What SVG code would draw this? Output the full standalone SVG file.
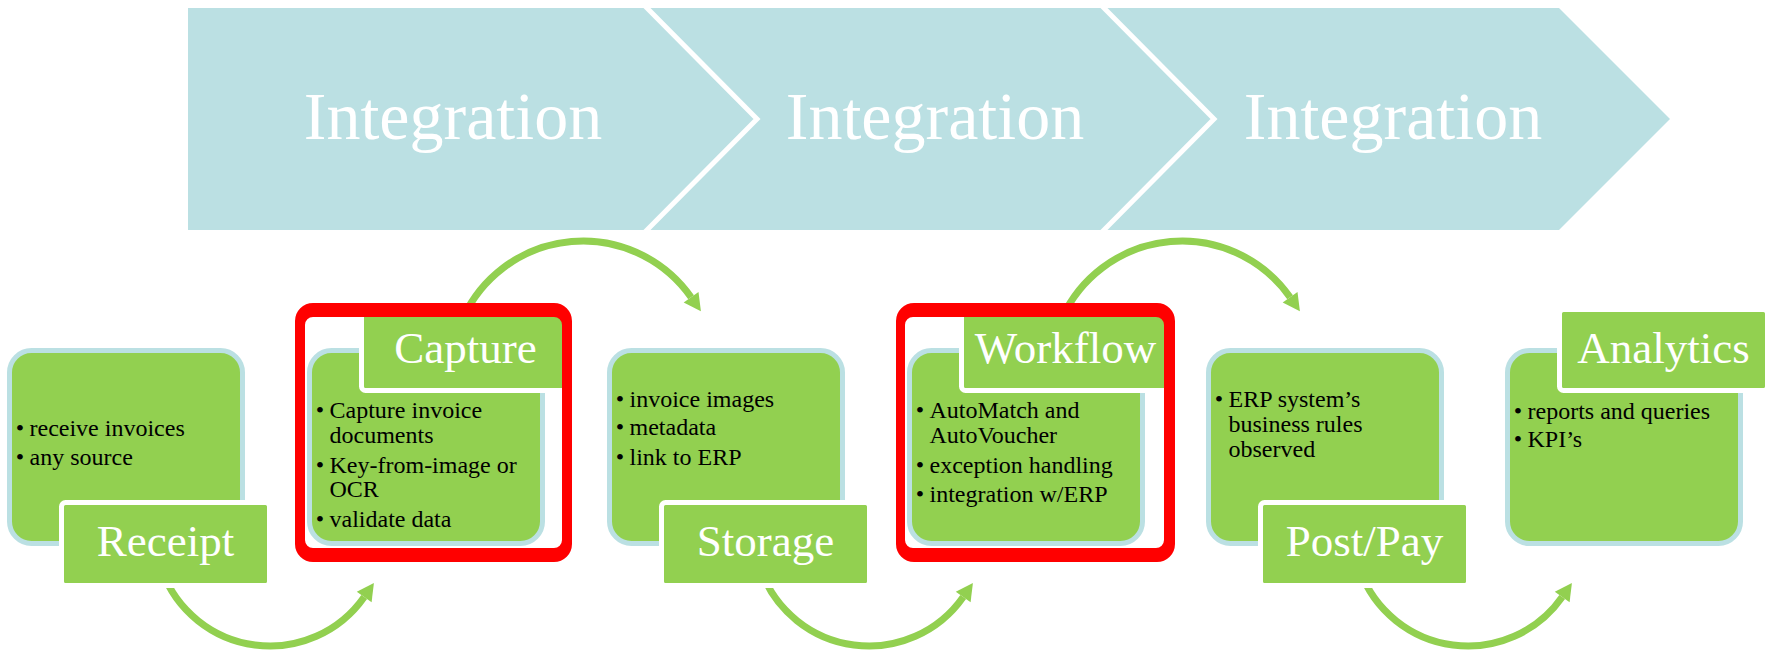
<svg xmlns="http://www.w3.org/2000/svg" width="1774" height="650" viewBox="0 0 1774 650">
<style>
.chev{fill:#BBE0E3}
.sep{fill:none;stroke:#fff;stroke-width:5;stroke-linejoin:miter}
.ctext{font-family:"Liberation Serif","Times New Roman",serif;font-size:68px;fill:#fff;text-anchor:middle}
.body{fill:#92D050;stroke:#BBE0E3;stroke-width:5}
.lab{fill:#92D050;stroke:#fff;stroke-width:5}
.ltext{font-family:"Liberation Serif","Times New Roman",serif;font-size:45px;fill:#fff;text-anchor:middle}
.btext{font-family:"Liberation Serif","Times New Roman",serif;font-size:24px;fill:#000}
.bul{text-anchor:middle}
.arc{fill:none;stroke:#92D050;stroke-width:7}
.head{fill:#92D050}
.red{fill:#FF0000;fill-rule:evenodd}
</style>
<rect width="1774" height="650" fill="#fff"/>

<g id="chevron1">
<polygon class="chev" points="188,8 646,8 757,119 646,230 188,230"/>
<text class="ctext" x="453" y="139">Integration</text>
</g>
<g id="chevron2">
<polygon class="chev" points="646,8 1103,8 1214,119 1103,230 646,230 757,119"/>
<polyline class="sep" points="644,5 757,119 644,233"/>
<text class="ctext" x="935" y="139">Integration</text>
</g>
<g id="chevron3">
<polygon class="chev" points="1103,8 1559,8 1670,119 1559,230 1103,230 1214,119"/>
<polyline class="sep" points="1101,5 1214,119 1101,233"/>
<text class="ctext" x="1393" y="139">Integration</text>
</g>

<g id="connectors">
<path class="arc" d="M161.9,570.3 A115,115 0 0 0 364.2,597"/>
<polygon class="head" points="373.9,583.1 371.6,602.2 356.8,591.8"/>
<path class="arc" d="M463.4,317.2 A132,132 0 0 1 691.1,297.3"/>
<polygon class="head" points="700.9,311.2 698.5,292.1 683.7,302.5"/>
<path class="arc" d="M760.9,570.3 A115,115 0 0 0 963.2,597"/>
<polygon class="head" points="972.9,583.1 970.6,602.2 955.8,591.8"/>
<path class="arc" d="M1062.4,317.2 A132,132 0 0 1 1290.1,297.3"/>
<polygon class="head" points="1299.9,311.2 1297.5,292.1 1282.7,302.5"/>
<path class="arc" d="M1359.9,570.3 A115,115 0 0 0 1562.2,597"/>
<polygon class="head" points="1571.9,583.1 1569.6,602.2 1554.8,591.8"/>
</g>

<g id="receipt">
<rect class="body" x="9.5" y="350.5" width="233" height="193" rx="22"/>
<g class="btext">
<text class="bul" x="20" y="436">•</text><text x="29.5" y="436">receive invoices</text>
<text class="bul" x="20" y="465">•</text><text x="29.5" y="465">any source</text>
</g>
<rect class="lab" x="61.5" y="502.5" width="208" height="83" rx="4"/>
<text class="ltext" x="165.5" y="556">Receipt</text>
</g>

<g id="capture">
<rect class="body" x="309.5" y="350.5" width="233" height="193" rx="22"/>
<g class="btext">
<text class="bul" x="320" y="418">•</text><text x="329.5" y="418">Capture invoice</text>
<text x="329.5" y="443">documents</text>
<text class="bul" x="320" y="473">•</text><text x="329.5" y="473">Key-from-image or</text>
<text x="329.5" y="497">OCR</text>
<text class="bul" x="320" y="527">•</text><text x="329.5" y="527">validate data</text>
</g>
<rect class="lab" x="361.5" y="309.5" width="208" height="81" rx="4"/>
<text class="ltext" x="465.5" y="363">Capture</text>
<path class="red" d="M313,303 H554 A18,18 0 0 1 572,321 V544 A18,18 0 0 1 554,562 H313 A18,18 0 0 1 295,544 V321 A18,18 0 0 1 313,303 Z M313,317 H554 A8,8 0 0 1 562,325 V540 A8,8 0 0 1 554,548 H313 A8,8 0 0 1 305,540 V325 A8,8 0 0 1 313,317 Z"/>
</g>

<g id="storage">
<rect class="body" x="609.5" y="350.5" width="233" height="193" rx="22"/>
<g class="btext">
<text class="bul" x="620" y="407">•</text><text x="629.5" y="407">invoice images</text>
<text class="bul" x="620" y="435">•</text><text x="629.5" y="435">metadata</text>
<text class="bul" x="620" y="465">•</text><text x="629.5" y="465">link to ERP</text>
</g>
<rect class="lab" x="661.5" y="502.5" width="208" height="83" rx="4"/>
<text class="ltext" x="765.5" y="556">Storage</text>
</g>

<g id="workflow">
<rect class="body" x="909.5" y="350.5" width="233" height="193" rx="22"/>
<g class="btext">
<text class="bul" x="920" y="418">•</text><text x="929.5" y="418">AutoMatch and</text>
<text x="929.5" y="443">AutoVoucher</text>
<text class="bul" x="920" y="473">•</text><text x="929.5" y="473">exception handling</text>
<text class="bul" x="920" y="502">•</text><text x="929.5" y="502">integration w/ERP</text>
</g>
<rect class="lab" x="961.5" y="309.5" width="208" height="81" rx="4"/>
<text class="ltext" x="1065.5" y="363">Workflow</text>
<path class="red" d="M914,303 H1157 A18,18 0 0 1 1175,321 V544 A18,18 0 0 1 1157,562 H914 A18,18 0 0 1 896,544 V321 A18,18 0 0 1 914,303 Z M913,317 H1156 A8,8 0 0 1 1164,325 V540 A8,8 0 0 1 1156,548 H913 A8,8 0 0 1 905,540 V325 A8,8 0 0 1 913,317 Z"/>
</g>

<g id="postpay">
<rect class="body" x="1208.5" y="350.5" width="233" height="193" rx="22"/>
<g class="btext">
<text class="bul" x="1219" y="407">•</text><text x="1228.5" y="407">ERP system’s</text>
<text x="1228.5" y="432">business rules</text>
<text x="1228.5" y="457">observed</text>
</g>
<rect class="lab" x="1260.5" y="502.5" width="208" height="83" rx="4"/>
<text class="ltext" x="1364.5" y="556">Post/Pay</text>
</g>

<g id="analytics">
<rect class="body" x="1507.5" y="350.5" width="233" height="193" rx="22"/>
<g class="btext">
<text class="bul" x="1518" y="419">•</text><text x="1527.5" y="419">reports and queries</text>
<text class="bul" x="1518" y="447">•</text><text x="1527.5" y="447">KPI’s</text>
</g>
<rect class="lab" x="1559.5" y="309.5" width="208" height="81" rx="4"/>
<text class="ltext" x="1663.5" y="363">Analytics</text>
</g>
</svg>
